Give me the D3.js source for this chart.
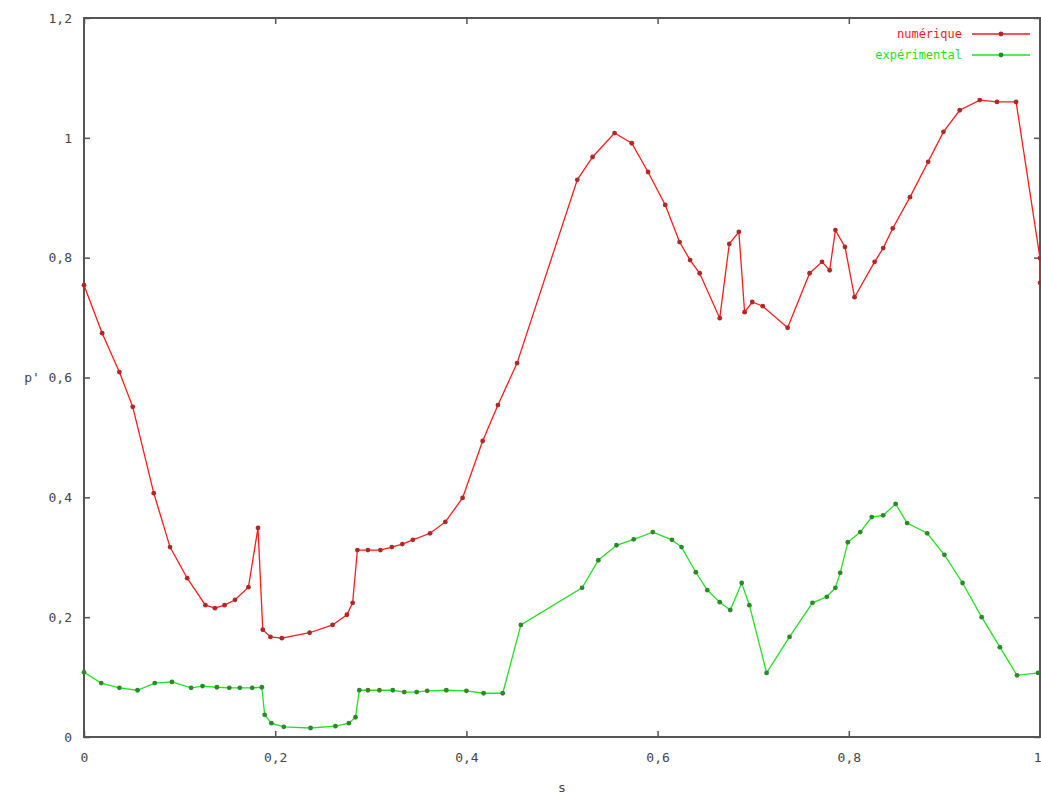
<!DOCTYPE html>
<html><head><meta charset="utf-8">
<script src="https://cdn.jsdelivr.net/npm/d3@7"></script>
<style>body{margin:0;background:#fff}svg{display:block}</style>
</head><body>
<script>
const xTicks = [0, 0.2, 0.4, 0.6, 0.8, 1];
const yTicks = [0, 0.2, 0.4, 0.6, 0.8, 1, 1.2];
const seriesNames = ["numérique", "expérimental"];
const numS = [0,.019,.037,.051,.073,.090,.108,.127,.137,.147,.158,.172,.182,.187,.195,.207,.236,.260,.275,.281,
  .286,.297,.310,.322,.333,.344,.362,.378,.396,.417,.433,.453,.516,.532,.555,.573,.590,.608,.623,.634,.644,.665,
  .675,.685,.691,.699,.710,.736,.759,.772,.780,.786,.796,.806,.827,.836,.846,.864,.883,.899,.916,.937,.955,.975,1.0,1.0];
const numV = [.754,.674,.609,.551,.407,.317,.265,.220,.215,.220,.229,.250,.349,.179,.167,.165,.174,.187,.204,.224,
  .312,.312,.312,.317,.322,.329,.340,.359,.399,.494,.554,.624,.930,.968,1.008,.991,.943,.888,.826,.796,.774,.699,
  .823,.843,.709,.726,.719,.683,.774,.793,.779,.846,.818,.734,.793,.816,.849,.901,.960,1.010,1.046,1.063,1.060,1.060,.799,.758];
const expS = [0,.018,.037,.056,.074,.092,.112,.124,.139,.152,.163,.176,.186,.189,.196,.209,.237,.263,.277,.284,
  .288,.297,.309,.323,.335,.348,.359,.379,.400,.418,.438,.457,.521,.538,.557,.575,.595,.615,.625,.640,.652,.665,
  .676,.688,.696,.714,.738,.762,.777,.786,.791,.799,.812,.824,.836,.849,.861,.882,.900,.919,.939,.958,.976,.998];
const expV = [.108,.090,.082,.078,.090,.092,.082,.085,.083,.082,.082,.082,.083,.037,.023,.017,.015,.018,.023,.033,
  .078,.078,.078,.078,.075,.075,.077,.078,.077,.073,.073,.187,.249,.295,.320,.330,.342,.329,.317,.275,.245,.225,
  .212,.257,.220,.107,.167,.224,.234,.249,.274,.325,.342,.367,.370,.389,.357,.340,.304,.257,.200,.150,.103,.107];

const W = 1041, H = 800;
const m = {left: 84, right: 1040, top: 18, bottom: 737};
const svg = d3.select("body").append("svg").attr("width", W).attr("height", H);
const x = d3.scaleLinear().domain([0, 1]).range([m.left, m.right]);
const y = d3.scaleLinear().domain([0, 1.2]).range([m.bottom, m.top]);
const fmt = d => d3.format("~g")(d).replace(".", ",");
const font = "DejaVu Sans Mono, monospace";

function styleAxis(g){
  g.select(".domain").remove();
  g.selectAll("line").attr("stroke", "#555").attr("stroke-width", 1.5);
  g.selectAll("text").attr("font-family", font).attr("font-size", 13).attr("fill", "#444");
}
svg.append("g").attr("transform", `translate(0,${m.bottom})`)
  .call(d3.axisBottom(x).tickValues(xTicks).tickFormat(fmt).tickSizeInner(-6).tickSizeOuter(0).tickPadding(16))
  .call(styleAxis)
  .call(g => g.selectAll(".tick").filter(d => d === 1).select("text").attr("text-anchor", "end").attr("dx", 1));
svg.append("g").attr("transform", `translate(${m.left},0)`)
  .call(d3.axisLeft(y).tickValues(yTicks).tickFormat(fmt).tickSizeInner(-6).tickSizeOuter(0).tickPadding(12))
  .call(styleAxis);
svg.append("g").attr("transform", `translate(0,${m.top})`)
  .call(d3.axisTop(x).tickValues(xTicks).tickFormat("").tickSizeInner(-6).tickSizeOuter(0))
  .call(styleAxis);
svg.append("g").attr("transform", `translate(${m.right},0)`)
  .call(d3.axisRight(y).tickValues(yTicks).tickFormat("").tickSizeInner(-6).tickSizeOuter(0))
  .call(styleAxis);

svg.append("rect").attr("x", m.left).attr("y", m.top)
  .attr("width", m.right - m.left).attr("height", m.bottom - m.top)
  .attr("fill", "none").attr("stroke", "#555").attr("stroke-width", 2);

svg.append("text").attr("x", (m.left + m.right) / 2).attr("y", 792).attr("text-anchor", "middle")
  .attr("font-family", font).attr("font-size", 13).attr("fill", "#444").text("s");
svg.append("text").attr("x", 32).attr("y", 382).attr("text-anchor", "middle")
  .attr("font-family", font).attr("font-size", 13).attr("fill", "#444").text("p'");

const series = [
  {name: seriesNames[0], s: numS, v: numV, color: "#ff1a1a", dot: "#b02828"},
  {name: seriesNames[1], s: expS, v: expV, color: "#22e022", dot: "#2a8a2a"}
];
const line = d3.line().x(d => x(d[0])).y(d => y(d[1]));
series.forEach((se, i) => {
  const pts = se.s.map((s, k) => [s, se.v[k]]);
  const g = svg.append("g");
  g.append("path").datum(pts).attr("d", line).attr("fill", "none")
    .attr("stroke", se.color).attr("stroke-width", 1.3);
  g.selectAll("circle").data(pts).join("circle")
    .attr("cx", d => x(d[0])).attr("cy", d => y(d[1])).attr("r", 2.4)
    .attr("fill", se.dot);
  const ly = 34 + i * 21;
  svg.append("text").attr("x", 962).attr("y", ly + 4).attr("text-anchor", "end")
    .attr("font-family", font).attr("font-size", 12).attr("fill", se.color).text(se.name);
  svg.append("line").attr("x1", 972).attr("x2", 1030).attr("y1", ly).attr("y2", ly)
    .attr("stroke", se.color).attr("stroke-width", 1.3);
  svg.append("circle").attr("cx", 1001).attr("cy", ly).attr("r", 2.4).attr("fill", se.dot);
});
</script>
</body></html>
